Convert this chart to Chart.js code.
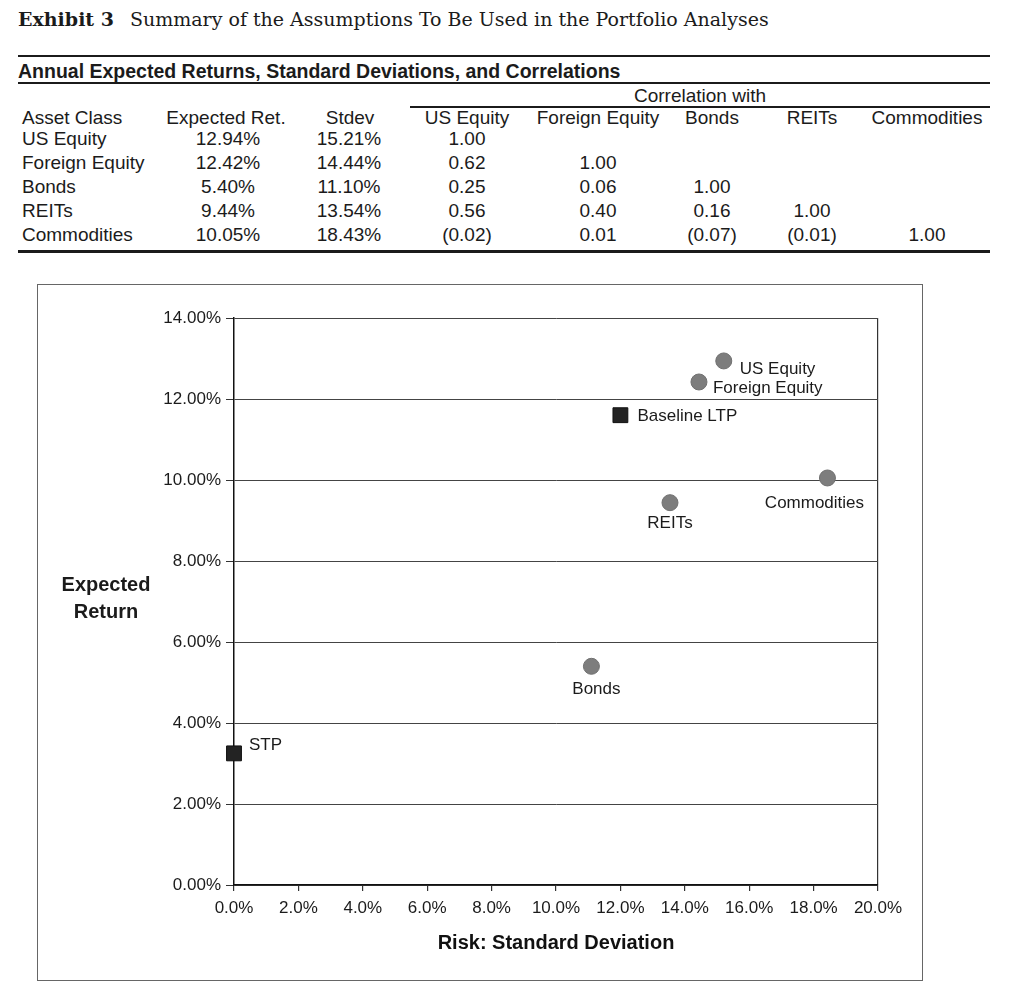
<!DOCTYPE html>
<html>
<head>
<meta charset="utf-8">
<script src="https://cdn.jsdelivr.net/npm/chart.js@4.4.1/dist/chart.umd.min.js"></script>
<style>
  body { margin: 0; background: #fff; width: 1024px; height: 1005px; position: relative; overflow: hidden;
         font-family: "Liberation Sans", Arial, sans-serif; color: #1b1b1b; }
  .abs { position: absolute; white-space: nowrap; line-height: 22px; }
  .rule { position: absolute; background: #1b1b1b; }
  #heading { position: absolute; left: 18px; top: 8px; font-family: "DejaVu Serif", serif; font-size: 19px; white-space: nowrap; }
  #heading b { margin-right: 16px; }
  #tableTitle { left: 18px; top: 60px; font-weight: bold; font-size: 19.5px; }
  #box { position: absolute; left: 37px; top: 284px; width: 884px; height: 695px; border: 1px solid #666; }
  #box canvas { position: absolute; left: 0; top: 0; }
</style>
</head>
<body>
<div id="heading"><b>Exhibit 3</b>Summary of the Assumptions To Be Used in the Portfolio Analyses</div>
<div class="rule" style="left:18px;top:55px;width:972px;height:2px"></div>
<div id="tableTitle" class="abs">Annual Expected Returns, Standard Deviations, and Correlations</div>
<div class="rule" style="left:18px;top:82px;width:972px;height:2px"></div>
<div class="rule" style="left:410px;top:106px;width:580px;height:1.5px"></div>
<div class="rule" style="left:18px;top:250px;width:972px;height:2.5px"></div>
<div id="table"></div>
<div id="box"><canvas id="riskChart" width="884" height="695"></canvas></div>

<script>
// table data
const assetClasses = ['US Equity', 'Foreign Equity', 'Bonds', 'REITs', 'Commodities'];
const expectedRet = [12.94, 12.42, 5.40, 9.44, 10.05];
const stdev = [15.21, 14.44, 11.10, 13.54, 18.43];
const correlations = [
  [1.00],
  [0.62, 1.00],
  [0.25, 0.06, 1.00],
  [0.56, 0.40, 0.16, 1.00],
  [-0.02, 0.01, -0.07, -0.01, 1.00]
];

// portfolios plotted as squares
const portfolios = ['Baseline LTP', 'STP'];
const portfolioRisk = [12.0, 0.0];
const portfolioRet = [11.6, 3.25];

// where each name sits next to its marker: [dx, dy, align]
const labelPlacement = {
  'US Equity': [16, 8, 'left'],
  'Foreign Equity': [14, 6, 'left'],
  'Bonds': [5, 23, 'center'],
  'REITs': [0, 21, 'center'],
  'Commodities': [-13, 25, 'center'],
  'Baseline LTP': [17, 1, 'left'],
  'STP': [15, -8, 'left']
};

const FONT = '"Liberation Sans", Arial, sans-serif';

// ---- table ----
const tbl = document.getElementById('table');
function cell(text, x, y, align, size) {
  const d = document.createElement('div');
  d.className = 'abs';
  d.textContent = text;
  d.style.fontSize = (size || 19) + 'px';
  d.style.top = (y - 11) + 'px';
  d.style.left = x + 'px';
  if (align !== 'left') d.style.transform = 'translateX(-50%)';
  tbl.appendChild(d);
}
function fmtCorr(v) {
  return v < 0 ? '(' + Math.abs(v).toFixed(2) + ')' : v.toFixed(2);
}
const corrCols = [467, 598, 712, 812, 927];
const headY = 118, rowY = [139, 163, 187, 211, 235];
cell('Correlation with', 700, 96, 'center');
cell('Asset Class', 22, headY, 'left');
cell('Expected Ret.', 226, headY, 'center');
cell('Stdev', 350, headY, 'center');
assetClasses.forEach((a, i) => cell(a, corrCols[i], headY, 'center'));
assetClasses.forEach((a, i) => {
  cell(a, 22, rowY[i], 'left');
  cell(expectedRet[i].toFixed(2) + '%', 228, rowY[i], 'center');
  cell(stdev[i].toFixed(2) + '%', 349, rowY[i], 'center');
  correlations[i].forEach((c, j) => cell(fmtCorr(c), corrCols[j], rowY[i], 'center'));
});

// ---- chart ----
const pointLabels = {
  id: 'pointLabels',
  afterDatasetsDraw(chart) {
    const ctx = chart.ctx;
    ctx.save();
    ctx.font = '17px ' + FONT;
    ctx.fillStyle = '#1b1b1b';
    ctx.textBaseline = 'middle';
    chart.data.datasets.forEach((ds, di) => {
      chart.getDatasetMeta(di).data.forEach((pt, i) => {
        const name = ds.data[i].name;
        const p = labelPlacement[name];
        ctx.textAlign = p[2];
        ctx.fillText(name, pt.x + p[0], pt.y + p[1]);
      });
    });
    // y axis title, horizontal on two lines
    const a = chart.chartArea;
    const mid = (a.top + a.bottom) / 2;
    ctx.font = 'bold 20px ' + FONT;
    ctx.textAlign = 'center';
    ctx.fillText('Expected', 68, mid - 16);
    ctx.fillText('Return', 68, mid + 11);
    ctx.restore();
  }
};

const riskChart = new Chart(document.getElementById('riskChart'), {
  type: 'scatter',
  data: {
    datasets: [
      {
        label: 'Asset classes',
        data: assetClasses.map((n, i) => ({ x: stdev[i], y: expectedRet[i], name: n })),
        pointStyle: 'circle',
        pointRadius: 8,
        backgroundColor: '#7d7d7d',
        borderColor: '#707070',
        borderWidth: 1,
        clip: false
      },
      {
        label: 'Portfolios',
        data: portfolios.map((n, i) => ({ x: portfolioRisk[i], y: portfolioRet[i], name: n })),
        pointStyle: 'rect',
        pointRadius: 10.5,
        backgroundColor: '#232323',
        borderColor: '#111',
        borderWidth: 1,
        clip: false
      }
    ]
  },
  options: {
    responsive: false,
    animation: false,
    layout: { padding: { left: 0, right: 44, top: 33, bottom: 0 } },
    plugins: { legend: { display: false }, tooltip: { enabled: false } },
    scales: {
      x: {
        type: 'linear', min: 0, max: 20,
        afterFit: s => { s.height = 95; },
        ticks: { stepSize: 2, autoSkip: false, maxRotation: 0, padding: 7, color: '#1b1b1b',
                 font: { family: FONT, size: 17 }, callback: v => v.toFixed(1) + '%' },
        grid: { color: c => (c.tick && c.tick.value === 20) ? '#333' : 'rgba(0,0,0,0)',
                tickColor: '#333', tickLength: 6, lineWidth: 1.2 },
        border: { color: '#111', width: 1.5 },
        title: { display: true, text: 'Risk: Standard Deviation', color: '#111',
                 font: { family: FONT, size: 20, weight: 'bold' }, padding: { top: 0, bottom: 25 } }
      },
      y: {
        min: 0, max: 14,
        afterFit: s => { s.width = 196; },
        ticks: { stepSize: 2, padding: 5, color: '#1b1b1b',
                 font: { family: FONT, size: 17 }, callback: v => v.toFixed(2) + '%' },
        grid: { color: '#444', tickColor: '#333', tickLength: 8, lineWidth: 1 },
        border: { color: '#111', width: 1.5 }
      }
    }
  },
  plugins: [pointLabels]
});
</script>
</body>
</html>
